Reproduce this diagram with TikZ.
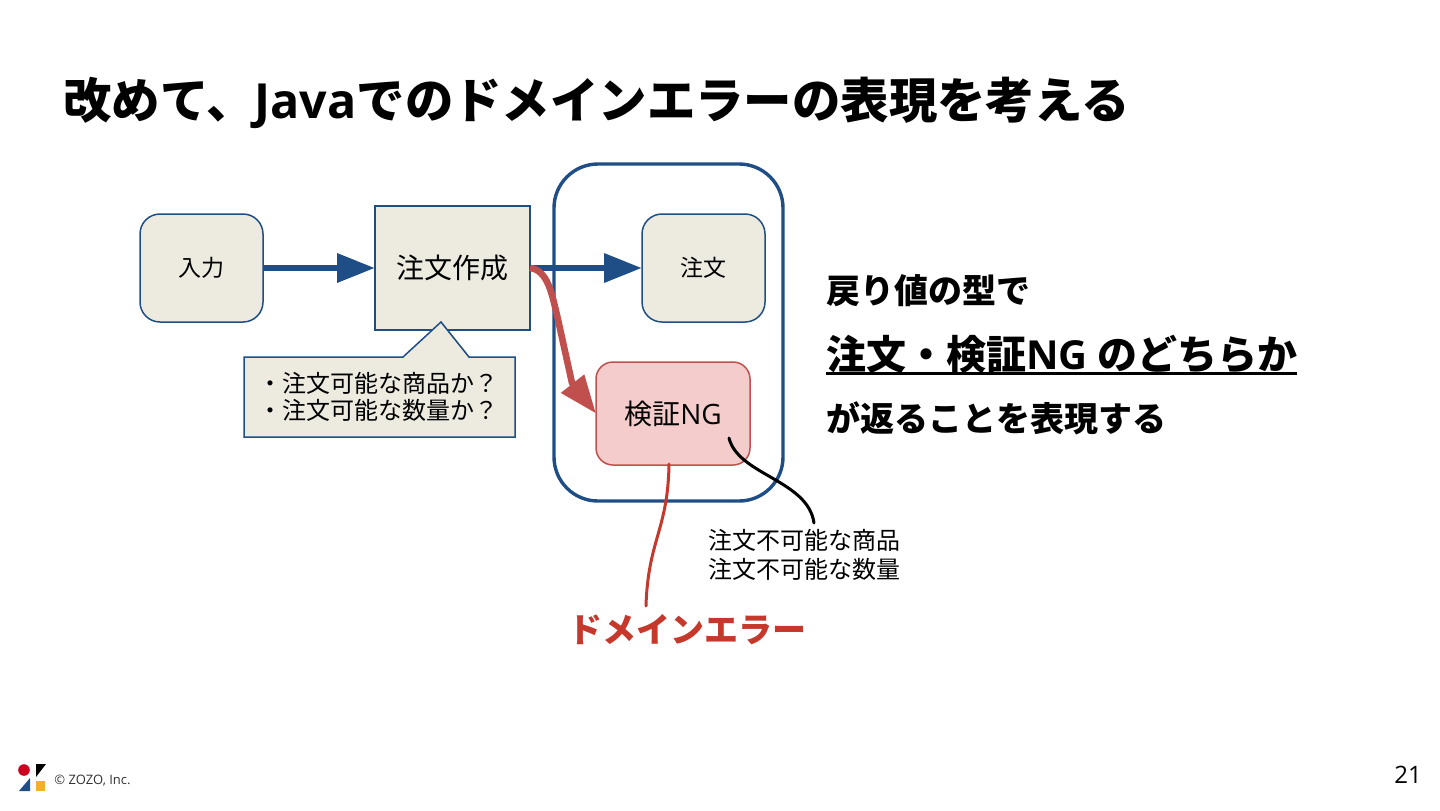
\documentclass[tikz,border=0pt]{standalone}
\usepackage{fontspec}
\setmainfont{Noto Sans CJK JP}
\newfontfamily\latinfont{Open Sans}
\usetikzlibrary{arrows.meta,positioning}
\newcommand{\lat}[1]{{\latinfont #1}}
\definecolor{zozoblue}{RGB}{31,78,134}
\definecolor{zozobeige}{RGB}{237,235,224}
\definecolor{ngfill}{RGB}{244,204,204}
\definecolor{ngred}{RGB}{192,80,77}
\definecolor{errred}{RGB}{197,57,44}
\definecolor{logored}{RGB}{204,0,30}
\definecolor{logoyellow}{RGB}{243,176,36}
\tikzset{
  flowbox/.style={
    draw=zozoblue,fill=zozobeige,line width=0.75pt,align=center,
    inner sep=0pt,outer sep=0pt,text=black
  },
  stepbox/.style={flowbox,rounded corners=10pt,minimum width=61.5pt,minimum height=54pt,font=\fontsize{11.5}{14}\selectfont},
  mainbox/.style={flowbox,minimum width=77.5pt,minimum height=62pt,font=\fontsize{14}{17}\selectfont},
  ngbox/.style={flowbox,draw=ngred,fill=ngfill,rounded corners=8.5pt,minimum width=77pt,minimum height=51.5pt,font=\fontsize{14}{17}\selectfont},
  groupbox/.style={draw=zozoblue,line width=1.7pt,rounded corners=22pt,minimum width=114.5pt,minimum height=168.5pt,inner sep=0pt,outer sep=0pt},
  flowarrow/.style={-{Triangle[length=19pt,width=14pt]},line width=3.3pt,draw=zozoblue},
  ngarrow/.style={-{Triangle[length=19pt,width=14pt]},line width=3.3pt,draw=ngred,line join=round},
  leadline/.style={line width=1.5pt,line cap=round},
  message/.style={anchor=west,font=\bfseries\fontsize{17}{20}\selectfont,inner sep=0pt}
}
\begin{document}
\begin{tikzpicture}[x=0.5pt,y=-0.5pt]
  \useasboundingbox (0,0) rectangle (1440,810);
  \node[anchor=west,inner sep=0pt,font=\bfseries\fontsize{24.2}{29}\selectfont] (title) at (63,103) {改めて、\lat{Java}でのドメインエラーの表現を考える};
  % boxes
  \node[groupbox] (group) at (668.5,332.5) {};
  \node[stepbox] (input) at (201.5,268) {入力};
  \node[mainbox] (create) at (452.5,268) {注文作成};
  \node[stepbox] (order) at (703.5,268) {注文};
  \node[ngbox] (ng) at (673,413.5) {検証\lat{NG}};
  % callout under the create box
  \draw[flowbox] (244,357) -- (403,357) -- (441,322) -- (469,357) -- (515,357) -- (515,437) -- (244,437) -- cycle;
  \node[align=left,inner sep=0pt,font=\fontsize{12}{13.5}\selectfont] (checks) at (378.5,397) {・注文可能な商品か？\\・注文可能な数量か？};
  % arrows
  \draw[flowarrow] (input)--(create);
  \draw[flowarrow] (create)--(order);
  \draw[ngarrow] (create.east) .. controls (548,270) and (552,295) .. (557,315) -- (572,383) -- (ng.west);
  % labels and their lead lines
  \node[align=left,inner sep=0pt,font=\fontsize{12}{14.5}\selectfont] (reasons) at (804,555) {注文不可能な商品\\注文不可能な数量};
  \node[inner sep=0pt,text=errred,font=\bfseries\fontsize{17}{20}\selectfont] (domain) at (687,630) {ドメインエラー};
  \coordinate (ngin) at (729,438);
  \coordinate (ngout) at (814,523);
  \coordinate (redin) at (669,464);
  \coordinate (redout) at (646,606);
  \draw[leadline] (ngin) .. controls (738,475) and (808,480) .. (ngout);
  \draw[leadline,draw=errred] (redin) .. controls (668,530) and (648,540) .. (redout);
  % right side message
  \node[message] (line1) at (826,291) {戻り値の型で};
  \node[message,font=\bfseries\fontsize{20}{24}\selectfont] (line2) at (826,354) {注文・検証\lat{NG} のどちらか};
  \node[message] (line3) at (826,418) {が返ることを表現する};
  \draw[line width=1.5pt] (line2.south west) -- (line2.south east);
  % footer
  \fill[logored] (24,770) circle (2.9pt);
  \fill[black] (36,764) -- (46,764) -- (36,777) -- cycle;
  \fill[zozoblue] (19,791) -- (30,778) -- (30,791) -- cycle;
  \fill[logoyellow] (36,781) rectangle (45,791);
  \node[anchor=west,inner sep=0pt,font=\latinfont\fontsize{6.5}{8}\selectfont,text=black!80] (copyright) at (54,781) {© ZOZO, Inc.};
  \node[inner sep=0pt,font=\latinfont\fontsize{12}{14}\selectfont] (pagenum) at (1408,775) {21};
\end{tikzpicture}
\end{document}
